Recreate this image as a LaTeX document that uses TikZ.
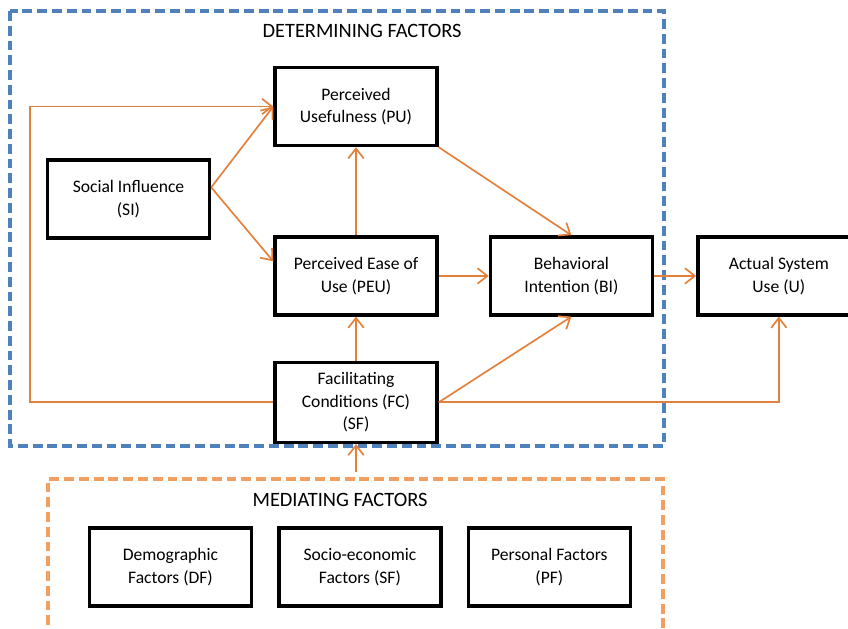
\documentclass[tikz,border=0pt]{standalone}
\usepackage{fontspec}
\setmainfont{Carlito}
\usepackage{xcolor}
\usepackage{tikz}
\usetikzlibrary{arrows.meta, positioning}

\definecolor{detblue}{RGB}{79,129,189}
\definecolor{medorange}{RGB}{242,160,98}
\definecolor{linkorange}{RGB}{226,128,60}

\begin{document}
\begin{tikzpicture}[
    x=0.025cm, y=-0.025cm,
    node distance=0.6cm,
    box/.style={rectangle, draw, line width=2.4pt, minimum width=4.05cm, minimum height=1.95cm,
        align=center, font=\fontsize{12.5}{16}\selectfont},
    head/.style={font=\fontsize{14.5}{17}\selectfont},
    dashframe/.style={line width=2.4pt, dash pattern=on 7pt off 3.5pt},
    arrow/.style={-{Straight Barb[length=7pt, width=11pt]}, line width=1.2pt, linkorange}
]
    \useasboundingbox (0,0) rectangle (848,629);
    \clip (0,0) rectangle (848,629);

    % Frames
    \draw[dashframe, detblue] (10,11) rectangle (664,446);
    \draw[dashframe, medorange] (48,640) -- (48,479) -- (663,479) -- (663,640);
    \node[head] (dethead) at (362,31) {DETERMINING FACTORS};
    \node[head] (medhead) at (340,500) {MEDIATING FACTORS};

    % Determining factors
    \node[box] (pu) at (356,106.5) {Perceived\\Usefulness (PU)};
    \node[box] (si) at (128.5,199) {Social Influence\\(SI)};
    \node[box, below=2.2cm of pu] (peu) {Perceived Ease of\\Use (PEU)};
    \node[box, right=1.25cm of peu] (bi) {Behavioral\\Intention (BI)};
    \node[box, right=1.05cm of bi] (use) {Actual System\\Use (U)};
    \node[box, below=1.1cm of peu, minimum height=2cm] (fc) {Facilitating\\Conditions (FC)\\(SF)};

    % Mediating factors
    \node[box] (df) at (170.5,567) {Demographic\\Factors (DF)};
    \node[box, right=of df] (sef) {Socio-economic\\Factors (SF)};
    \node[box, right=of sef] (pf) {Personal Factors\\(PF)};

    % Links
    \coordinate (back) at (30,106.5);
    \coordinate (medtop) at (356,472);
    \draw[arrow] (si.8) -- (pu.west);
    \draw[arrow] (si.8) -- (peu.170);
    \draw[arrow] (fc.west) -| (back) -- (pu.west);
    \draw[arrow] (peu.north) -- (pu.south);
    \draw[arrow] (fc.north) -- (peu.south);
    \draw[arrow] (pu.south east) -- (bi.north);
    \draw[arrow] (peu.east) -- (bi.west);
    \draw[arrow] (bi.east) -- (use.west);
    \draw[arrow] (fc.east) -- (bi.south);
    \draw[arrow] (fc.east) -| (use.south);
    \draw[arrow] (medtop) -- (fc.south);
\end{tikzpicture}
\end{document}
